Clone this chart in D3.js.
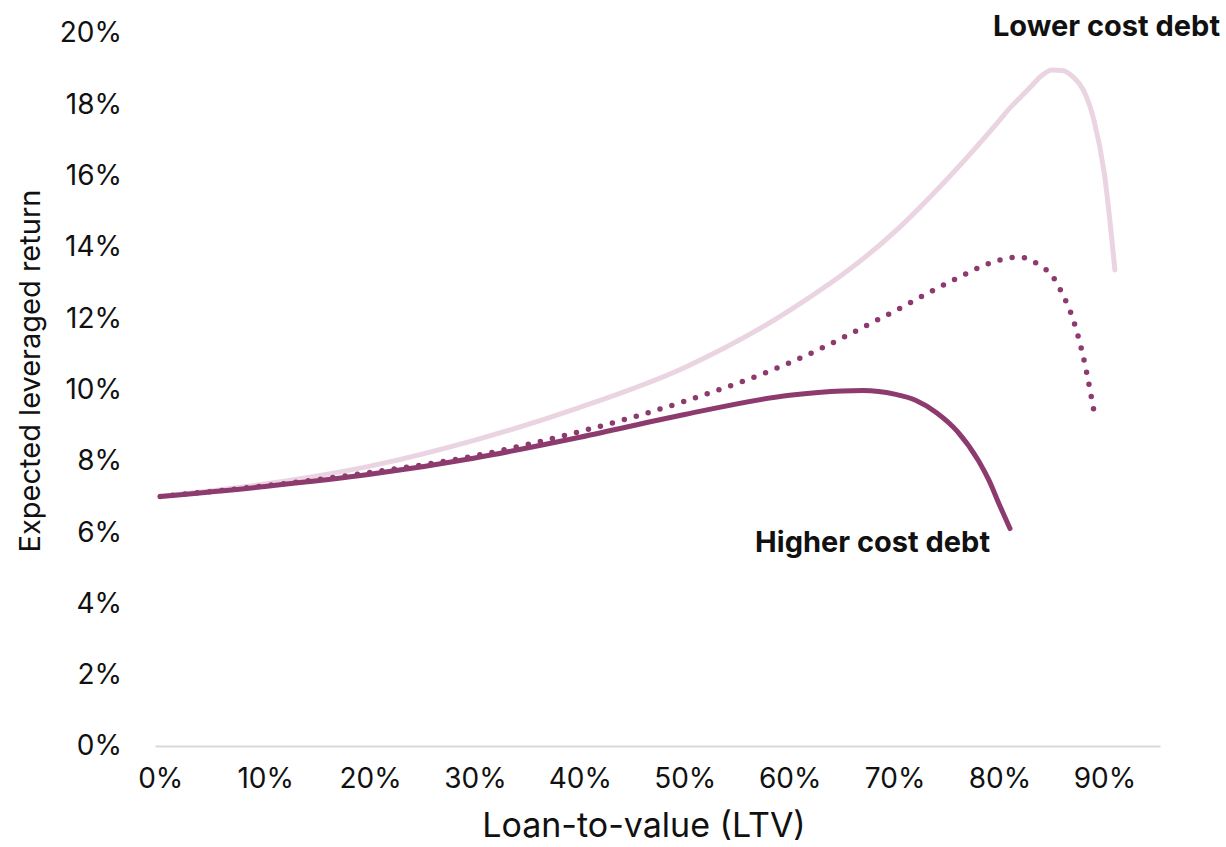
<!DOCTYPE html>
<html>
<head>
<meta charset="utf-8">
<script src="https://cdn.jsdelivr.net/npm/d3@7"></script>
<style>
  body { margin: 0; background: #fff; }
  text { font-family: Inter, "Noto Sans", sans-serif; fill: #111; }
</style>
</head>
<body>
<div id="vis"></div>
<script>
////////////////////////////////////////
/////////////// Data ///////////////////
////////////////////////////////////////

const ltvTicks = [0, 10, 20, 30, 40, 50, 60, 70, 80, 90];
const returnTicks = [0, 2, 4, 6, 8, 10, 12, 14, 16, 18, 20];

// lower cost debt (light line)
const lowerLtv = [0, 10, 20, 30, 40, 50, 60, 70, 75, 80, 81, 82, 83, 84, 85, 86, 87, 88, 89, 90, 91];
const lowerReturn = [7.0, 7.35, 7.85, 8.58, 9.5, 10.62, 12.22, 14.42, 15.9, 17.55, 17.9, 18.2, 18.5, 18.8, 18.96, 18.95, 18.77, 18.4, 17.56, 16.05, 13.35];

// middle case (dotted line)
const midLtv = [0, 10, 20, 30, 40, 50, 60, 70, 75, 80, 81, 82, 83, 84, 85, 86, 87, 88, 89];
const midReturn = [7.0, 7.3, 7.67, 8.14, 8.82, 9.67, 10.75, 12.2, 12.98, 13.63, 13.7, 13.71, 13.62, 13.45, 13.2, 12.68, 11.98, 10.9, 9.4];

// higher cost debt (dark line)
const higherLtv = [0, 10, 20, 30, 40, 50, 60, 65, 67, 70, 72, 74, 76, 78, 79, 80, 81];
const higherReturn = [7.0, 7.28, 7.62, 8.08, 8.66, 9.3, 9.84, 9.96, 9.97, 9.87, 9.7, 9.35, 8.82, 8.0, 7.45, 6.76, 6.1];

////////////////////////////////////////
/////////////// Options ////////////////
////////////////////////////////////////

const options = {
  width: 1226,
  height: 847,
  left: 155,
  right: 1160,
  top: 33,
  bottom: 746,
  light: "#ead4e1",
  dark: "#8d3b6e",
  axis: "#d9d9d9",
  tickFont: 28,
};

const svg = d3
  .select("#vis")
  .append("svg")
  .attr("width", options.width)
  .attr("height", options.height);

////////////////////////////////////////
////////////// Scales //////////////////
////////////////////////////////////////

// category-style axis: first point half a step in from the axis start
const xScale = d3.scaleLinear().domain([-0.5, 95.3]).range([options.left, options.right]);
const yScale = d3.scaleLinear().domain([0, 20]).range([options.bottom, options.top]);

////////////////////////////////////////
////////////// Axes ////////////////////
////////////////////////////////////////

const xAxis = svg
  .append("g")
  .attr("transform", `translate(0,${options.bottom})`)
  .call(
    d3.axisBottom(xScale)
      .tickValues(ltvTicks)
      .tickSize(0)
      .tickSizeOuter(0)
      .tickPadding(22)
      .tickFormat((d) => d + "%")
  );
xAxis.attr("font-size", options.tickFont).attr("font-family", null);
xAxis.select(".domain").attr("stroke", options.axis).attr("stroke-width", 2);
xAxis.selectAll("text").attr("fill", "#111");

const yAxis = svg
  .append("g")
  .attr("transform", `translate(${options.left},0)`)
  .call(
    d3.axisLeft(yScale)
      .tickValues(returnTicks)
      .tickSize(0)
      .tickPadding(33)
      .tickFormat((d) => d + "%")
  );
yAxis.attr("font-size", options.tickFont).attr("font-family", null);
yAxis.select(".domain").remove();
yAxis.selectAll("text").attr("fill", "#111");

// axis titles
svg
  .append("text")
  .attr("x", 644)
  .attr("y", 837)
  .attr("text-anchor", "middle")
  .attr("font-size", 34)
  .text("Loan-to-value (LTV)");

svg
  .append("text")
  .attr("transform", "translate(40,371) rotate(-90)")
  .attr("text-anchor", "middle")
  .attr("font-size", 29)
  .text("Expected leveraged return");

////////////////////////////////////////
////////////// Lines ///////////////////
////////////////////////////////////////

const line = d3
  .line()
  .x((d) => xScale(d[0]))
  .y((d) => yScale(d[1]))
  .curve(d3.curveMonotoneX);

const zip = (a, b) => a.map((v, i) => [v, b[i]]);

svg
  .append("path")
  .attr("d", line(zip(lowerLtv, lowerReturn)))
  .attr("fill", "none")
  .attr("stroke", options.light)
  .attr("stroke-width", 5)
  .attr("stroke-linecap", "round")
  .attr("stroke-linejoin", "round");

svg
  .append("path")
  .attr("d", line(zip(midLtv, midReturn)))
  .attr("fill", "none")
  .attr("stroke", options.dark)
  .attr("stroke-width", 5.5)
  .attr("stroke-linecap", "round")
  .attr("stroke-dasharray", "0 12.4");

svg
  .append("path")
  .attr("d", line(zip(higherLtv, higherReturn)))
  .attr("fill", "none")
  .attr("stroke", options.dark)
  .attr("stroke-width", 5)
  .attr("stroke-linecap", "round")
  .attr("stroke-linejoin", "round");

////////////////////////////////////////
////////////// Labels //////////////////
////////////////////////////////////////

svg
  .append("text")
  .attr("x", 1220)
  .attr("y", 36)
  .attr("text-anchor", "end")
  .attr("font-size", 29)
  .attr("font-weight", 700)
  .text("Lower cost debt");

svg
  .append("text")
  .attr("x", 990)
  .attr("y", 552)
  .attr("text-anchor", "end")
  .attr("font-size", 29)
  .attr("font-weight", 700)
  .text("Higher cost debt");
</script>
</body>
</html>
